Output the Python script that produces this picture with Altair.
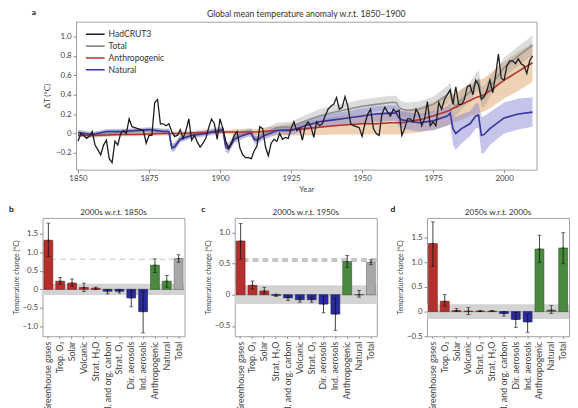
import altair as alt
import pandas as pd

FONT = "Lato"

# ---------------- panel a: global mean temperature anomaly ----------------
had_years = list(range(1850, 2011))
had_vals = [
    -0.08, 0.00, -0.02, -0.05, -0.03, 0.02, -0.12, -0.17, -0.22, -0.12,
    -0.07, -0.26, -0.30, -0.08, -0.12, 0.00, 0.03, 0.00, 0.15, 0.07,
    0.06, 0.05, 0.04, 0.03, -0.10, -0.02, -0.02, 0.32, 0.35, 0.10,
    0.10, 0.08, 0.10, 0.02, -0.03, -0.02, 0.04, -0.05, 0.03, 0.15,
    -0.07, -0.02, -0.09, -0.14, -0.10, -0.05, 0.06, 0.15, 0.10, -0.06,
    0.15, 0.05, -0.08, -0.15, -0.10, -0.02, 0.02, -0.15, -0.22, -0.25,
    -0.25, -0.26, -0.18, -0.13, 0.07, 0.05, -0.14, -0.23, -0.10, -0.06,
    -0.08, 0.00, -0.06, -0.04, -0.05, 0.05, 0.12, 0.03, 0.05, -0.07,
    0.08, 0.12, 0.07, -0.04, 0.12, 0.08, 0.10, 0.18, 0.25, 0.28,
    0.30, 0.37, 0.25, 0.27, 0.38, 0.28, 0.10, 0.08, 0.07, 0.06,
    -0.03, 0.10, 0.20, 0.25, 0.05, 0.00, -0.02, 0.20, 0.27, 0.22,
    0.18, 0.25, 0.22, 0.24, -0.02, 0.05, 0.15, 0.15, 0.12, 0.25,
    0.20, 0.08, 0.15, 0.33, 0.08, 0.12, 0.08, 0.32, 0.25, 0.35,
    0.40, 0.45, 0.30, 0.48, 0.30, 0.30, 0.35, 0.48, 0.50, 0.40,
    0.55, 0.50, 0.35, 0.38, 0.45, 0.55, 0.42, 0.60, 0.82, 0.57,
    0.55, 0.70, 0.75, 0.75, 0.72, 0.77, 0.72, 0.70, 0.62, 0.75,
    0.80,
]

model_years = [1850, 1855, 1860, 1865, 1870, 1875, 1880, 1882, 1883, 1884, 1886,
               1890, 1895, 1900, 1901, 1902, 1903, 1905, 1908, 1910, 1911, 1912, 1913,
               1915, 1920, 1925, 1930, 1935, 1940, 1945, 1950, 1955, 1960,
               1962, 1963, 1964, 1966, 1970, 1975, 1980, 1981, 1982, 1983,
               1985, 1988, 1990, 1991, 1992, 1993, 1995, 2000, 2005, 2010]

anthro_mean = [-0.02, -0.02, -0.015, -0.01, -0.01, -0.005, 0.0, 0.0, 0.0, 0.0, 0.0,
               0.005, 0.01, 0.015, 0.015, 0.015, 0.015, 0.015, 0.015, 0.015, 0.015, 0.015, 0.015,
               0.02, 0.03, 0.04, 0.05, 0.065, 0.08, 0.09, 0.10, 0.10, 0.11,
               0.11, 0.11, 0.11, 0.12, 0.14, 0.18, 0.23, 0.24, 0.26, 0.27,
               0.30, 0.34, 0.37, 0.38, 0.39, 0.40, 0.44, 0.55, 0.64, 0.73]
anthro_half = [0.02, 0.02, 0.02, 0.02, 0.02, 0.02, 0.02, 0.02, 0.02, 0.02, 0.02,
               0.02, 0.02, 0.02, 0.02, 0.02, 0.02, 0.03, 0.03, 0.03, 0.03, 0.03, 0.03,
               0.04, 0.05, 0.06, 0.07, 0.08, 0.09, 0.10, 0.11, 0.11, 0.12,
               0.12, 0.12, 0.12, 0.12, 0.13, 0.14, 0.15, 0.15, 0.15, 0.15,
               0.16, 0.16, 0.17, 0.17, 0.17, 0.17, 0.18, 0.19, 0.20, 0.20]

natural_mean = [0.01, -0.01, 0.02, 0.02, 0.03, 0.04, 0.02, 0.02, -0.15, -0.14, -0.06,
                -0.02, 0.0, 0.03, 0.04, -0.14, -0.16, -0.06, -0.02, 0.0, 0.0, -0.06, -0.07,
                -0.03, 0.03, 0.03, 0.08, 0.12, 0.14, 0.16, 0.18, 0.20, 0.21,
                0.21, 0.16, 0.14, 0.13, 0.11, 0.13, 0.18, 0.21, 0.05, 0.0,
                0.05, 0.10, 0.18, 0.19, -0.02, -0.01, 0.05, 0.16, 0.20, 0.22]
natural_half = [0.025, 0.025, 0.025, 0.025, 0.025, 0.025, 0.025, 0.025, 0.04, 0.04, 0.03,
                0.03, 0.03, 0.03, 0.03, 0.05, 0.05, 0.04, 0.035, 0.035, 0.035, 0.04, 0.04,
                0.04, 0.04, 0.045, 0.05, 0.06, 0.07, 0.07, 0.08, 0.08, 0.08,
                0.08, 0.09, 0.09, 0.09, 0.09, 0.10, 0.10, 0.11, 0.16, 0.17,
                0.15, 0.13, 0.13, 0.13, 0.19, 0.19, 0.17, 0.16, 0.16, 0.15]

total_mean = [0.0, -0.02, 0.0, 0.01, 0.02, 0.03, 0.02, 0.02, -0.14, -0.13, -0.05,
              -0.01, 0.01, 0.04, 0.05, -0.12, -0.14, -0.04, 0.0, 0.02, 0.02, -0.04, -0.05,
              -0.01, 0.06, 0.07, 0.13, 0.18, 0.22, 0.25, 0.28, 0.30, 0.32,
              0.32, 0.27, 0.25, 0.24, 0.25, 0.30, 0.40, 0.44, 0.31, 0.28,
              0.35, 0.43, 0.52, 0.55, 0.38, 0.38, 0.48, 0.68, 0.80, 0.91]
total_half = [0.03, 0.03, 0.03, 0.03, 0.03, 0.03, 0.03, 0.03, 0.04, 0.04, 0.035,
              0.03, 0.03, 0.03, 0.03, 0.05, 0.05, 0.04, 0.04, 0.04, 0.04, 0.045, 0.045,
              0.045, 0.05, 0.05, 0.06, 0.07, 0.07, 0.07, 0.07, 0.07, 0.07,
              0.07, 0.08, 0.08, 0.08, 0.08, 0.08, 0.09, 0.09, 0.10, 0.10,
              0.10, 0.10, 0.10, 0.10, 0.11, 0.11, 0.10, 0.10, 0.10, 0.10]

series_names = ["HadCRUT3", "Total", "Anthropogenic", "Natural"]
series_colors = ["#1b1b1b", "#8e8e8e", "#b3322f", "#35359c"]
band_colors = {"Anthropogenic": "#e9c29a", "Total": "#9c9c9c", "Natural": "#7f7fd2"}
band_opacity = {"Anthropogenic": 0.75, "Total": 0.35, "Natural": 0.45}

year_ticks = [1850, 1875, 1900, 1925, 1950, 1975, 2000]
anom_ticks = [-0.2, 0.0, 0.2, 0.4, 0.6, 0.8, 1.0]

# ---------------- panels b, c, d: attribution bars ----------------
kind_names = ["warm", "cool", "sum", "total"]
kind_fill = ["#b5302c", "#2b2b9b", "#4a8a3e", "#a8a8a8"]
kind_edge = ["#6e1a18", "#17175e", "#2b5424", "#6f6f6f"]

cats_b = ["Greenhouse gases", "Trop. O₃", "Solar", "Volcanic", "Strat. H₂O",
          "Bl. and org. carbon", "Strat. O₃", "Dir. aerosols", "Ind. aerosols",
          "Anthropogenic", "Natural", "Total"]
vals_b = [1.32, 0.22, 0.17, 0.05, 0.03, -0.05, -0.05, -0.23, -0.60, 0.65, 0.22, 0.83]
lo_b = [0.88, 0.14, 0.09, -0.06, 0.00, -0.12, -0.10, -0.47, -1.17, 0.45, 0.06, 0.73]
hi_b = [1.78, 0.32, 0.28, 0.17, 0.06, 0.00, -0.01, -0.03, -0.05, 0.82, 0.37, 0.93]
kind_b = ["warm", "warm", "warm", "warm", "warm", "cool", "cool", "cool", "cool", "sum", "sum", "total"]
obs_b = 0.81

cats_c = ["Greenhouse gases", "Trop. O₃", "Solar", "Strat. H₂O", "Bl. and org. carbon",
          "Volcanic", "Strat. O₃", "Dir. aerosols", "Ind. aerosols",
          "Anthropogenic", "Natural", "Total"]
vals_c = [0.86, 0.15, 0.06, -0.01, -0.05, -0.08, -0.08, -0.15, -0.31, 0.53, 0.00, 0.52]
lo_c = [0.57, 0.09, 0.02, -0.03, -0.09, -0.12, -0.12, -0.29, -0.57, 0.44, -0.04, 0.48]
hi_c = [1.14, 0.22, 0.12, 0.01, -0.02, -0.04, -0.04, -0.02, -0.05, 0.63, 0.07, 0.56]
kind_c = ["warm", "warm", "warm", "cool", "cool", "cool", "cool", "cool", "cool", "sum", "sum", "total"]
obs_c = 0.555

cats_d = ["Greenhouse gases", "Trop. O₃", "Solar", "Volcanic", "Strat. O₃", "Strat. H₂O",
          "Bl. and org. carbon", "Dir. aerosols", "Ind. aerosols",
          "Anthropogenic", "Natural", "Total"]
vals_d = [1.38, 0.21, 0.02, 0.01, 0.01, 0.01, -0.04, -0.16, -0.21, 1.27, 0.03, 1.29]
lo_d = [0.92, 0.11, 0.00, -0.06, 0.00, 0.00, -0.09, -0.32, -0.42, 1.00, -0.04, 0.97]
hi_d = [1.82, 0.35, 0.06, 0.08, 0.02, 0.02, 0.00, -0.02, -0.05, 1.55, 0.12, 1.60]
kind_d = ["warm", "warm", "warm", "warm", "warm", "warm", "cool", "cool", "cool", "sum", "sum", "sum"]

noise_band = [-0.15, 0.15]

LBL = "datum.value == 0 ? '0' : replace(format(datum.value, '.1f'), '-', '\u2212')"


def panel_a():
    had = pd.DataFrame({"year": had_years, "value": had_vals, "series": "HadCRUT3"})
    rows = []
    for name, m, h in [("Total", total_mean, total_half),
                       ("Anthropogenic", anthro_mean, anthro_half),
                       ("Natural", natural_mean, natural_half)]:
        for y, a, b in zip(model_years, m, h):
            rows.append({"year": y, "series": name, "value": a, "lo": a - b, "hi": a + b})
    mdf = pd.DataFrame(rows)

    xs = alt.Scale(domain=[1849.3, 2011.4], nice=False, zero=False)
    ys = alt.Scale(domain=[-0.373, 1.153], nice=False, zero=False)
    xax = alt.Axis(values=year_ticks, format="d", title="Year", labelPadding=2, titlePadding=3)
    yax = alt.Axis(values=anom_ticks, labelExpr=LBL, title="ΔT (°C)", titlePadding=4)
    color = alt.Color("series:N",
                      scale=alt.Scale(domain=series_names, range=series_colors),
                      legend=alt.Legend(title=None, orient="none", legendX=43, legendY=7,
                                        symbolType="stroke", symbolSize=361,
                                        symbolStrokeWidth=1.6, labelFontSize=8.7,
                                        labelFont=FONT, labelColor="#333",
                                        rowPadding=0, clipHeight=11.5, labelOffset=3,
                                        padding=0))

    layers = []
    for name in ["Anthropogenic", "Total", "Natural"]:
        layers.append(
            alt.Chart(mdf).transform_filter(alt.datum.series == name)
            .mark_area(color=band_colors[name], opacity=band_opacity[name])
            .encode(x=alt.X("year:Q", scale=xs, axis=xax),
                    y=alt.Y("lo:Q", scale=ys, axis=yax), y2="hi:Q"))
    layers.append(
        alt.Chart(mdf).mark_line(strokeWidth=1.6)
        .encode(x=alt.X("year:Q", scale=xs, axis=xax),
                y=alt.Y("value:Q", scale=ys, axis=yax),
                color=color, detail="series:N"))
    layers.append(
        alt.Chart(had).mark_line(strokeWidth=1.3)
        .encode(x=alt.X("year:Q", scale=xs, axis=xax),
                y=alt.Y("value:Q", scale=ys, axis=yax), color=color))
    layers.append(
        alt.Chart(pd.DataFrame({"t": ["a"]}))
        .mark_text(align="left", baseline="middle", fontWeight="bold", fontSize=8.5,
                   font=FONT, color="#111")
        .encode(x=alt.value(-45), y=alt.value(-10), text="t:N"))
    return alt.layer(*layers).properties(
        width=467, height=150,
        title=alt.TitleParams("Global mean temperature anomaly w.r.t. 1850–1900",
                              fontSize=8.8, fontWeight="normal", offset=5, dy=16,
                              color="#333", font=FONT))


def bar_panel(cats, vals, lo, hi, kinds, obs, obs_w, title, letter, letter_x, ydom, yticks):
    df = pd.DataFrame({"cat": cats, "val": vals, "lo": lo, "hi": hi, "kind": kinds})
    ys = alt.Scale(domain=ydom, nice=False, zero=False)
    yax = alt.Axis(values=yticks, labelExpr=LBL, title="Temperature change (°C)",
                   titleFontSize=7, titlePadding=3)
    xax = alt.Axis(title=None, labelAngle=270, labelAlign="right", labelBaseline="middle",
                   labelFontSize=9, labelPadding=3, tickSize=2, labelLimit=0)
    x = alt.X("cat:N", sort=cats, scale=alt.Scale(paddingInner=0.25, paddingOuter=0.12), axis=xax)

    band = alt.Chart(pd.DataFrame({"lo": [noise_band[0]], "hi": [noise_band[1]]})) \
        .mark_rect(color="#d3d3d3").encode(y=alt.Y("lo:Q", scale=ys, axis=yax), y2="hi:Q")
    zero = alt.Chart(pd.DataFrame({"z": [0.0]})).mark_rule(color="#9a9a9a", strokeWidth=0.8) \
        .encode(y=alt.Y("z:Q", scale=ys, axis=yax))
    layers = [band, zero]
    if obs is not None:
        layers.append(
            alt.Chart(pd.DataFrame({"o": [obs]}))
            .mark_rule(color="#c6c6c6", strokeWidth=obs_w, strokeDash=[6, 4])
            .encode(y=alt.Y("o:Q", scale=ys, axis=yax)))
    layers.append(
        alt.Chart(df).mark_bar(strokeWidth=0.6)
        .encode(x=x, y=alt.Y("val:Q", scale=ys, axis=yax), y2=alt.datum(0),
                color=alt.Color("kind:N", scale=alt.Scale(domain=kind_names, range=kind_fill), legend=None),
                stroke=alt.Stroke("kind:N", scale=alt.Scale(domain=kind_names, range=kind_edge), legend=None)))
    layers.append(
        alt.Chart(df).mark_rule(color="#111", strokeWidth=0.8)
        .encode(x=x, y=alt.Y("lo:Q", scale=ys, axis=yax), y2="hi:Q"))
    for f, s in [("lo", 4), ("hi", 4), ("val", 3)]:
        layers.append(
            alt.Chart(df).mark_tick(color="#111", thickness=0.8, size=s)
            .encode(x=x, y=alt.Y(f + ":Q", scale=ys, axis=yax)))
    layers.append(
        alt.Chart(pd.DataFrame({"t": [letter]}))
        .mark_text(align="left", baseline="middle", fontWeight="bold", fontSize=8.5,
                   font=FONT, color="#111")
        .encode(x=alt.value(letter_x), y=alt.value(-9), text="t:N"))
    return alt.layer(*layers).properties(
        width=144, height=120,
        title=alt.TitleParams(title, fontSize=8.3, fontWeight="normal", offset=4, dy=15,
                              color="#333", font=FONT))


spacer = alt.Chart(pd.DataFrame({"s": [0]})).mark_point(opacity=0).encode(
    x=alt.X("s:Q", axis=None), y=alt.Y("s:Q", axis=None)
).properties(width=34, height=150, view=alt.ViewBackground(stroke="transparent"))

top_row = alt.hconcat(spacer, panel_a(), spacing=0, bounds="flush").resolve_scale(
    x="independent", y="independent")

b = bar_panel(cats_b, vals_b, lo_b, hi_b, kind_b, obs_b, 1.2, "2000s w.r.t. 1850s", "b", -34,
              [-1.26, 1.92], [-1.0, -0.5, 0.0, 0.5, 1.0, 1.5])
c = bar_panel(cats_c, vals_c, lo_c, hi_c, kind_c, obs_c, 4, "2000s w.r.t. 1950s", "c", -34,
              [-0.665, 1.23], [-0.5, 0.0, 0.5, 1.0])
d = bar_panel(cats_d, vals_d, lo_d, hi_d, kind_d, None, 1, "2050s w.r.t. 2000s", "d", -37,
              [-0.5, 1.9], [-0.5, 0.0, 0.5, 1.0, 1.5])

bottom_row = alt.hconcat(b, c, d, spacing=51, bounds="flush").resolve_scale(
    x="independent", y="independent", color="independent", stroke="independent")

chart = alt.vconcat(top_row, bottom_row, spacing=10).resolve_scale(
    x="independent", y="independent", color="independent", stroke="independent"
).properties(
    padding={"left": 0, "top": -4, "right": 0, "bottom": 0}
).configure_view(
    stroke="#a0a0a0", strokeWidth=1
).configure_axis(
    labelFont=FONT, titleFont=FONT, labelFontSize=8, titleFontSize=8,
    titleFontWeight="normal", labelColor="#444", titleColor="#444",
    tickColor="#888", tickSize=3, domain=False, grid=False
).configure_title(font=FONT)

chart.save("out.html", embed_options={"renderer": "svg", "actions": False})
